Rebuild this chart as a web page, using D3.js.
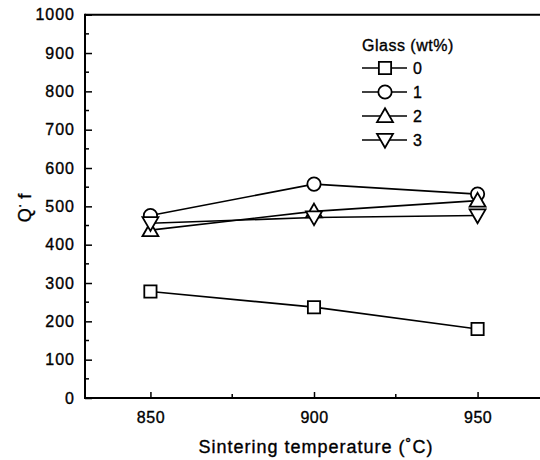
<!DOCTYPE html>
<html lang="en">
<head>
    <title>Q*f vs sintering temperature</title>
    <script src="https://d3js.org/d3.v7.min.js"></script>
    <style>
        body { margin: 0; background: #fff; }
        text { font-family: "Liberation Sans", Arial, sans-serif; fill: #000; stroke: #000; stroke-width: 0.35px; }
    </style>
</head>
<body>
    <svg width="540" height="460" id="mainsvg"></svg>

    <script>
        // data
        const temps = [850, 900, 950]
        const glass0 = [278, 237, 180]
        const glass1 = [476, 558, 532]
        const glass2 = [438, 487, 515]
        const glass3 = [456, 471, 476]
        const seriesNames = ['0', '1', '2', '3']
        const seriesShapes = ['square', 'circle', 'up', 'down']
        const yTicks = [0, 100, 200, 300, 400, 500, 600, 700, 800, 900, 1000]
        const xTicks = [850, 900, 950]

        const svg = d3.select('#mainsvg')
        const plotLeft = 85, plotRight = 543, plotTop = 14.7, plotBottom = 398

        const xScale = d3.scaleLinear().domain([830, 970]).range([plotLeft, plotRight])
        const yScale = d3.scaleLinear().domain([0, 1000]).range([plotBottom, plotTop])

        // frame: left, top, bottom (right edge falls outside the picture)
        const frame = svg.append('g').attr('stroke', '#000').attr('stroke-width', 2)
        frame.append('line').attr('x1', plotLeft).attr('x2', plotLeft).attr('y1', plotTop - 1).attr('y2', plotBottom + 1)
        frame.append('line').attr('x1', plotLeft).attr('x2', 540).attr('y1', plotTop).attr('y2', plotTop)
        frame.append('line').attr('x1', plotLeft).attr('x2', 540).attr('y1', plotBottom).attr('y2', plotBottom)

        // y axis, ticks pointing inward
        const yAxis = d3.axisLeft(yScale).tickValues(yTicks).tickFormat(d3.format('d')).tickSize(-7).tickPadding(10)
        const yG = svg.append('g').attr('transform', `translate(${plotLeft},0)`).call(yAxis)
        yG.select('.domain').remove()
        yG.selectAll('.tick line').attr('stroke-width', 1.5)
        yG.selectAll('.tick text').attr('font-size', '16px').attr('letter-spacing', '1px').attr('fill', '#000')
        // minor y ticks
        const yMinor = d3.range(50, 1000, 100)
        svg.append('g').selectAll('line').data(yMinor).join('line')
            .attr('x1', plotLeft).attr('x2', plotLeft + 4)
            .attr('y1', d => yScale(d)).attr('y2', d => yScale(d))
            .attr('stroke', '#000').attr('stroke-width', 1.5)

        // x axis: ticks point inward
        const xAxis = d3.axisBottom(xScale).tickValues(xTicks).tickSize(-6).tickPadding(14)
        const xG = svg.append('g').attr('transform', `translate(0,${plotBottom})`).call(xAxis)
        xG.select('.domain').remove()
        xG.selectAll('.tick line').attr('stroke-width', 1.5)
        xG.selectAll('.tick text').attr('font-size', '16px').attr('letter-spacing', '0.5px').attr('fill', '#000')
        svg.append('g').selectAll('line').data([875, 925]).join('line')
            .attr('x1', d => xScale(d)).attr('x2', d => xScale(d))
            .attr('y1', plotBottom).attr('y2', plotBottom - 4)
            .attr('stroke', '#000').attr('stroke-width', 1.5)

        // axis titles
        svg.append('text')
            .attr('x', 316).attr('y', 453)
            .attr('text-anchor', 'middle').attr('font-size', '18px').attr('letter-spacing', '1px')
            .text('Sintering temperature (˚C)')

        const yTitle = svg.append('text')
            .attr('transform', 'translate(31,208) rotate(-90)')
            .attr('text-anchor', 'middle').attr('font-size', '18px')
        yTitle.append('tspan').text('Q')
        yTitle.append('tspan').attr('dy', -7).attr('font-size', '14px').text('·')
        yTitle.append('tspan').attr('dy', 7).text(' f')

        // markers
        const symbolFor = {
            square: d3.symbol().type(d3.symbolSquare).size(150),
            circle: d3.symbol().type(d3.symbolCircle).size(140),
            up: d3.symbol().type(d3.symbolTriangle).size(110),
            down: d3.symbol().type(d3.symbolTriangle).size(110)
        }
        const drawMarker = function (g, shape, x, y) {
            g.append('path')
                .attr('d', symbolFor[shape]())
                .attr('transform', `translate(${x},${y + (shape === 'up' ? 1.5 : shape === 'down' ? -1.5 : 0)})` + (shape === 'down' ? ' rotate(180)' : ''))
                .attr('fill', '#fff').attr('stroke', '#000').attr('stroke-width', 1.8)
        }

        const allSeries = [glass0, glass1, glass2, glass3]
        const line = d3.line().x((d, i) => xScale(temps[i])).y(d => yScale(d))
        const plot = svg.append('g')
        allSeries.forEach(vals => {
            plot.append('path').attr('d', line(vals))
                .attr('fill', 'none').attr('stroke', '#000').attr('stroke-width', 1.6)
        })
        allSeries.forEach((vals, s) => {
            vals.forEach((v, i) => drawMarker(plot, seriesShapes[s], xScale(temps[i]), yScale(v)))
        })

        // legend
        const lg = svg.append('g')
        lg.append('text').attr('x', 362).attr('y', 51).attr('font-size', '16px').attr('letter-spacing', '0.5px')
            .text('Glass (wt%)')
        seriesNames.forEach((name, i) => {
            const cy = 68 + i * 24
            lg.append('line').attr('x1', 362).attr('x2', 407).attr('y1', cy).attr('y2', cy)
                .attr('stroke', '#000').attr('stroke-width', 1.6)
            drawMarker(lg, seriesShapes[i], 385, cy)
            lg.append('text').attr('x', 413).attr('y', cy + 6).attr('font-size', '16px').text(name)
        })
    </script>
</body>
</html>
